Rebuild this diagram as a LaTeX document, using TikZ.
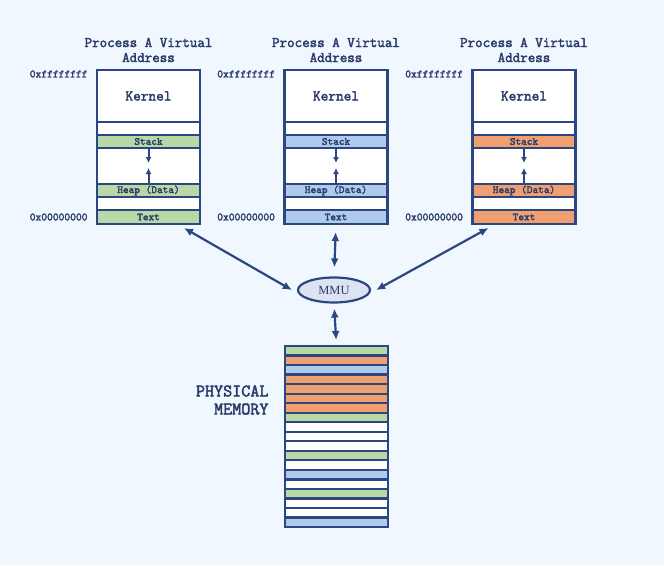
\documentclass[tikz,border=0pt]{standalone}
\usepackage{fontspec}
\setmainfont{Liberation Serif}
\newfontfamily\codefont[FakeBold=2.5]{Latin Modern Mono}
\usetikzlibrary{shapes.geometric,arrows.meta}

\definecolor{pagebg}{HTML}{F0F7FE}
\definecolor{navy}{HTML}{2C4681}
\definecolor{inktext}{HTML}{2B3C6B}
\definecolor{memgreen}{HTML}{B8D9A5}
\definecolor{memblue}{HTML}{AFCBEB}
\definecolor{memorange}{HTML}{F0A070}
\definecolor{mmufill}{HTML}{DDE3F2}

\tikzset{
  seg/.style={rectangle, draw=navy, line width=2.2pt, fill=white, anchor=north,
    minimum width=103pt, inner sep=0pt, outer sep=0pt, text=inktext,
    font=\codefont\fontsize{10.8}{12}\selectfont},
  title/.style={align=center, text=inktext, font=\codefont\fontsize{14.6}{15}\selectfont},
  addr/.style={anchor=east, text=inktext, font=\codefont\fontsize{11.2}{12}\selectfont},
  link/.style={navy, line width=2.2pt, {Latex[length=9pt,width=8pt]}-{Latex[length=9pt,width=8pt]}},
  growarrow/.style={navy, line width=2pt, -{Latex[length=6pt,width=6pt]}}
}

\begin{document}
\begin{tikzpicture}[x=1pt, y=-1pt]
\fill[pagebg] (0,0) rectangle (664,565);
\useasboundingbox (0,0) rectangle (664,565);

% three virtual address spaces
\foreach \cx/\segc/\i in {148.5/memgreen/1, 336/memblue/2, 524/memorange/3} {
  \node at (\cx, 50) [title] (title\i) {Process A Virtual\\Address};
  \node at (\cx, 70) [seg, minimum height=52pt, font=\codefont\fontsize{14.9}{15}\selectfont] (kernel\i) {Kernel};
  \node at (\cx, 122) [seg, minimum height=13pt] (gapk\i) {};
  \node at (\cx, 135) [seg, minimum height=13pt, fill=\segc] (stack\i) {Stack};
  \node at (\cx, 148) [seg, minimum height=36pt] (free\i) {};
  \node at (\cx, 184) [seg, minimum height=13pt, fill=\segc] (heap\i) {Heap (Data)};
  \node at (\cx, 197) [seg, minimum height=13pt] (gapt\i) {};
  \node at (\cx, 210) [seg, minimum height=14pt, fill=\segc] (text\i) {Text};
  \node at ([xshift=-6pt]kernel\i.north west) [addr, yshift=-4pt] (top\i) {0xffffffff};
  \node at ([xshift=-6pt]text\i.west) [addr] (bottom\i) {0x00000000};
  \draw[growarrow] (stack\i.south) -- ++(0, 15);
  \draw[growarrow] (heap\i.north) -- ++(0, -16);
}

\node at (334, 290) [ellipse, draw=navy, line width=2.2pt, fill=mmufill,
  minimum width=72pt, minimum height=25pt, inner sep=0pt, text=inktext,
  font=\fontsize{12.5}{13}\selectfont] (mmu) {MMU};

% physical memory frames
\foreach \c [count=\k from 0] in {memgreen, memorange, memblue, memorange, memorange,
    memorange, memorange, memgreen, white, white, white, memgreen, white, memblue,
    white, memgreen, white, white, memblue} {
  \node at (336.5, 346 + \k*9.53) [seg, fill=\c, minimum height=9.53pt] (phys\k) {};
}
\node at (272, 400) [anchor=east, align=right, text=inktext,
  font=\codefont\fontsize{17.6}{18}\selectfont] (physlabel) {PHYSICAL\\MEMORY};

\draw[link] ([xshift=-16pt, yshift=-4pt]text1.south east) -- ([xshift=-5pt]mmu.west);
\draw[link] ([xshift=16pt, yshift=-4pt]text3.south west) -- ([xshift=5pt]mmu.east);
\draw[link, shorten <=8pt, shorten >=9pt] (text2.south) -- (mmu.north);
\draw[link, shorten <=5pt, shorten >=6pt] (mmu.south) -- (phys0.north);
\end{tikzpicture}
\end{document}
